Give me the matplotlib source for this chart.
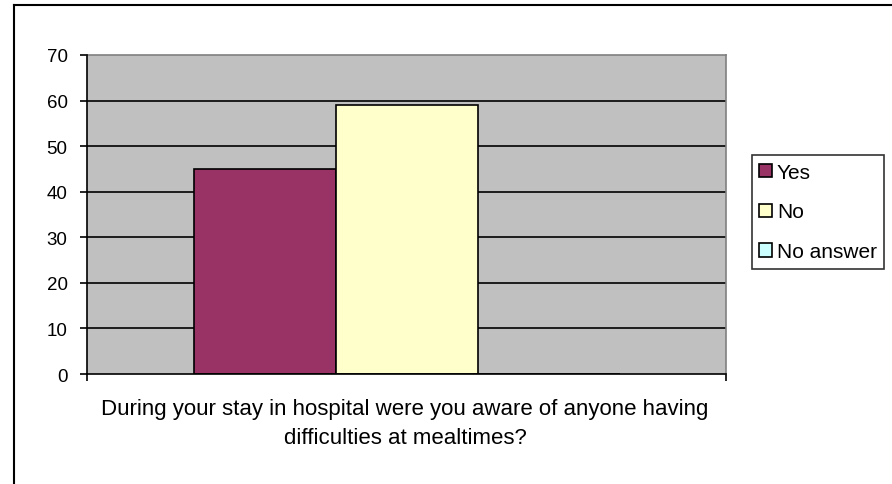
import matplotlib
matplotlib.use("Agg")
import matplotlib.pyplot as plt
from matplotlib.lines import Line2D

plt.rcParams['font.family'] = ['Liberation Sans', 'DejaVu Sans']

categories = ["Yes", "No", "No answer"]
values = [45, 59, 0]
colors = ["#993366", "#FFFFCC", "#CCFFFF"]
yticks = [0, 10, 20, 30, 40, 50, 60, 70]
xlabel_lines = ["During your stay in hospital were you aware of anyone having",
                "difficulties at mealtimes?"]

W, H = 892, 485
fig = plt.figure(figsize=(W / 100, H / 100), dpi=100)
ax = fig.add_axes([87 / W, 1 - 375 / H, (726 - 87) / W, (375 - 56) / H])
ax.set_facecolor("#C0C0C0")

bw = 1 / 4.5
n = len(categories)
for i, (c, v, col) in enumerate(zip(categories, values, colors)):
    x = 0.5 + (i - (n - 1) / 2) * bw
    ax.bar(x, v, width=bw, color=col, edgecolor="black", linewidth=1.2, label=c, zorder=3)

ax.set_xlim(0, 1)
ax.set_ylim(0, 70)
ax.set_yticks(yticks)
ax.set_yticklabels([str(t) for t in yticks], fontsize=13.5)
ax.set_xticks([0, 1])
ax.set_xticklabels([])
ax.tick_params(axis='both', direction='out', length=5, width=1.2, color='black')
ax.tick_params(axis='y', pad=9)
for t in yticks[1:-1]:
    ax.axhline(t, color='black', linewidth=1.2, zorder=1)

for s in ['top', 'right']:
    ax.spines[s].set_color('#808080')
    ax.spines[s].set_linewidth(1.2)
for s in ['left', 'bottom']:
    ax.spines[s].set_color('black')
    ax.spines[s].set_linewidth(1.2)
    ax.spines[s].set_zorder(4)

# category axis title (two centred lines)
fig.text(405 / W, 1 - 415 / H, xlabel_lines[0], ha='center', va='baseline', fontsize=16)
fig.text(405 / W, 1 - 444 / H, xlabel_lines[1], ha='center', va='baseline', fontsize=16)

leg = fig.legend(loc='center', bbox_to_anchor=(818 / W, 1 - 213 / H),
                 fontsize=15, frameon=True, fancybox=False, edgecolor='black',
                 handlelength=0.6, handleheight=0.6, handletextpad=0.25,
                 labelspacing=1.0, borderpad=0.35, borderaxespad=0)
leg.get_frame().set_linewidth(1.2)

# outer frame (chart area border)
fig.add_artist(Line2D([13.5 / W, 13.5 / W], [0, 1 - 6 / H], color='black', linewidth=1.5, transform=fig.transFigure))
fig.add_artist(Line2D([13.5 / W, 1], [1 - 6 / H, 1 - 6 / H], color='black', linewidth=1.5, transform=fig.transFigure))

fig.savefig("out.png", dpi=100)
